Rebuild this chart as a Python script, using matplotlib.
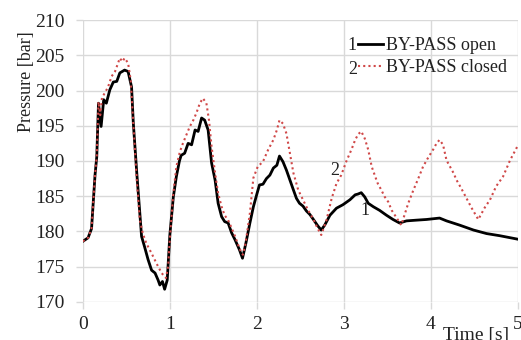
import matplotlib
matplotlib.use('Agg')
import matplotlib.pyplot as plt

plt.rcParams['font.family'] = ['Liberation Serif', 'DejaVu Serif']

# BY-PASS open (curve 1)
t_open = [0.0, 0.06, 0.10, 0.14, 0.16, 0.18, 0.21, 0.24, 0.27, 0.31, 0.35, 0.39,
          0.425, 0.48, 0.52, 0.56, 0.58, 0.62, 0.675, 0.71, 0.75, 0.79, 0.83,
          0.865, 0.885, 0.915, 0.94, 0.97, 1.0, 1.04, 1.075, 1.11, 1.13, 1.17,
          1.21, 1.25, 1.29, 1.325, 1.365, 1.40, 1.44, 1.48, 1.52, 1.555, 1.595,
          1.63, 1.67, 1.71, 1.75, 1.80, 1.835, 1.875, 1.92, 1.96, 2.0, 2.03,
          2.07, 2.11, 2.15, 2.19, 2.23, 2.26, 2.30, 2.34, 2.38, 2.42, 2.455,
          2.49, 2.53, 2.57, 2.61, 2.65, 2.70, 2.74, 2.78, 2.84, 2.915, 2.99,
          3.07, 3.13, 3.16, 3.20, 3.24, 3.28, 3.34, 3.41, 3.49, 3.565, 3.64,
          3.72, 3.83, 3.95, 4.10, 4.18, 4.33, 4.49, 4.64, 4.79, 5.0]
p_open = [178.6, 179.1, 180.4, 188.0, 190.6, 198.2, 194.9, 198.7, 198.2, 200.1,
          201.2, 201.3, 202.5, 202.9, 202.7, 200.5, 195.4, 188.3, 179.3, 177.8,
          176.0, 174.5, 174.1, 173.1, 172.4, 172.9, 171.8, 173.1, 179.5, 184.9,
          187.8, 190.0, 190.8, 191.1, 192.5, 192.3, 194.4, 194.2, 196.1, 195.8,
          194.4, 189.7, 187.3, 184.0, 182.1, 181.4, 181.2, 179.8, 178.8, 177.4,
          176.2, 178.4, 181.2, 183.5, 185.3, 186.6, 186.7, 187.5, 188.0, 189.0,
          189.4, 190.7, 189.9, 188.7, 187.3, 185.9, 184.7, 184.0, 183.6, 182.9,
          182.4, 181.7, 180.8, 180.2, 180.9, 182.3, 183.3, 183.8, 184.5, 185.2,
          185.3, 185.5, 184.9, 184.0, 183.5, 183.0, 182.3, 181.7, 181.2, 181.5,
          181.6, 181.7, 181.9, 181.5, 180.9, 180.2, 179.7, 179.4, 178.9]

# BY-PASS closed (curve 2)
t_closed = [0.0, 0.06, 0.10, 0.14, 0.16, 0.18, 0.20, 0.22, 0.25, 0.29, 0.33,
            0.37, 0.405, 0.425, 0.455, 0.48, 0.52, 0.55, 0.58, 0.62, 0.655, 0.69,
            0.73, 0.79, 0.845, 0.905, 0.955, 0.98, 1.0, 1.04, 1.075, 1.115, 1.15,
            1.19, 1.23, 1.27, 1.305, 1.345, 1.38, 1.42, 1.45, 1.48, 1.52, 1.555,
            1.595, 1.63, 1.67, 1.71, 1.75, 1.785, 1.825, 1.84, 1.87, 1.92, 1.96,
            2.01, 2.07, 2.13, 2.19, 2.23, 2.26, 2.30, 2.34, 2.38, 2.42, 2.475,
            2.53, 2.59, 2.65, 2.70, 2.74, 2.80, 2.86, 2.915, 2.97, 3.03, 3.09,
            3.13, 3.165, 3.20, 3.24, 3.28, 3.32, 3.36, 3.39, 3.43, 3.47, 3.51,
            3.55, 3.66, 3.74, 3.80, 3.855, 3.91, 3.97, 4.03, 4.065, 4.10, 4.14,
            4.18, 4.22, 4.26, 4.295, 4.35, 4.41, 4.47, 4.545, 4.62, 4.68, 4.75,
            4.83, 4.91, 5.0]
p_closed = [178.6, 179.1, 180.4, 188.0, 190.8, 198.4, 196.5, 199.0, 199.6, 200.5,
            202.0, 202.7, 203.9, 204.6, 204.1, 204.6, 203.9, 201.5, 195.3, 187.3,
            181.6, 179.7, 178.3, 176.9, 175.5, 174.1, 173.4, 175.0, 179.0, 185.4,
            189.2, 191.3, 192.5, 193.7, 194.9, 195.8, 196.8, 198.2, 198.9, 198.2,
            195.8, 192.0, 188.3, 185.4, 183.5, 182.3, 181.6, 180.5, 179.3, 178.1,
            176.9, 176.7, 178.3, 182.6, 187.6, 189.2, 189.9, 191.6, 193.0, 194.4,
            195.8, 195.3, 193.9, 191.1, 188.3, 185.9, 184.5, 183.0, 181.7, 180.4,
            179.5, 181.6, 184.7, 186.8, 188.0, 190.0, 191.7, 193.0, 193.8, 194.2,
            193.2, 191.6, 189.2, 187.8, 186.8, 185.9, 184.9, 184.2, 183.0, 180.9,
            184.0, 185.9, 187.5, 189.2, 190.5, 191.7, 192.5, 193.0, 192.3, 190.1,
            189.2, 188.3, 187.3, 186.1, 184.7, 183.3, 181.7, 183.4, 184.5, 186.4,
            187.8, 190.1, 192.2]

x_ticks = [0, 1, 2, 3, 4, 5]
y_ticks = [170, 175, 180, 185, 190, 195, 200, 205, 210]

fig = plt.figure(figsize=(5.21, 3.40), dpi=100)
ax = fig.add_axes([0.159, 0.112, 0.835, 0.829])

l1, = ax.plot(t_open, p_open, color='black', lw=2.0, zorder=3)
l2, = ax.plot(t_closed, p_closed, color='#d04848', lw=1.5, ls=(0, (1, 1.5)), zorder=4)

ax.set_xlim(0, 5)
ax.set_ylim(170, 210)
ax.set_xticks(x_ticks)
ax.set_yticks(y_ticks)
ax.grid(True, color='#d9d9d9', lw=1.0)
ax.set_axisbelow(True)
for s in ax.spines.values():
    s.set_visible(False)
ax.tick_params(axis='both', labelsize=14, colors='#d9d9d9', labelcolor='#222222',
               length=5, width=1.0)
ax.tick_params(axis='x', pad=5)
ax.tick_params(axis='y', pad=8)

fig.text(26 / 521, 1 - 82 / 340, 'Pressure [bar]', fontsize=13, color='#222222',
         rotation=90, ha='center', va='center')
fig.text(0.913, 0.038, 'Time [s]', fontsize=14, color='#222222', ha='center', va='top')

leg = ax.legend([l1, l2], ['BY-PASS open', 'BY-PASS closed'], loc='upper left',
                bbox_to_anchor=(0.632, 0.94), frameon=False, fontsize=13,
                handlelength=1.4, handletextpad=0.15, labelspacing=0.3,
                borderpad=0, borderaxespad=0)
for txt in leg.get_texts():
    txt.set_color('#222222')
ax.text(0.63, 0.91, '1', transform=ax.transAxes, fontsize=13, color='#222222',
        ha='right', va='center')
ax.text(0.63, 0.825, '2', transform=ax.transAxes, fontsize=13, color='#222222',
        ha='right', va='center')

ax.text(3.24, 183.0, '1', fontsize=13, color='#222222', ha='center', va='center')
ax.text(2.90, 188.7, '2', fontsize=13, color='#222222', ha='center', va='center')

fig.savefig('out.png', dpi=100)
